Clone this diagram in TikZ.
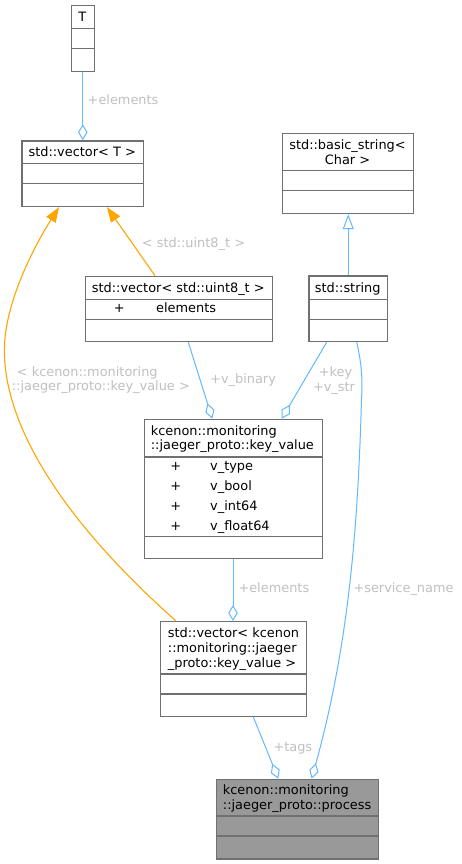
\documentclass[tikz,border=0pt]{standalone}
\usepackage{fontspec}
\setmainfont{DejaVu Sans}
\usetikzlibrary{arrows.meta}
\definecolor{edgeblue}{HTML}{63B8FF}
\definecolor{edgeorange}{HTML}{FFA500}
\definecolor{boxgray}{HTML}{707070}
\definecolor{lblgray}{HTML}{C0C0C0}
\definecolor{procfill}{HTML}{999999}
\tikzset{
  classbox/.style={draw=boxgray, line width=1.2pt, fill=white, rectangle, inner sep=0pt, anchor=north west},
  divider/.style={draw=boxgray, line width=1.2pt},
  txt/.style={inner sep=0pt, font=\fontsize{12.9}{14.6}\selectfont, text=black},
  lbl/.style={inner sep=0pt, font=\fontsize{12.9}{14.6}\selectfont, text=lblgray},
  member/.style={draw=edgeblue, line width=1pt, -{Diamond[open, length=16pt, width=9.5pt, line width=1pt]}},
  inherit/.style={draw=edgeblue, line width=1pt, -{Triangle[open, length=15pt, width=11pt, line width=1pt]}},
  templ/.style={draw=edgeorange, line width=1.1pt, -{Triangle[length=15pt, width=11pt]}, color=edgeorange},
}
\begin{document}
\begin{tikzpicture}[x=1pt, y=-1pt]
\useasboundingbox[fill=white] (0,0) rectangle (461,864);

% ---- boxes ----
\node[classbox, minimum width=23pt, minimum height=65.7pt] (T) at (70.7,5) {};
\draw[divider] (T.north west) ++(0,23.7) -- ++(23,0);
\draw[divider] (T.north west) ++(0,43.7) -- ++(23,0);
\node[txt, anchor=base] (Tt) at (82.2,21.4) {T};

\node[classbox, minimum width=121.7pt, minimum height=65.7pt] (vt) at (21.3,140.3) {};
\draw[divider] (vt.north west) ++(0,23.4) -- ++(121.7,0);
\draw[divider] (vt.north west) ++(0,43.4) -- ++(121.7,0);
\node[txt, anchor=base] (vtt) at (82.2,157) {std::vector< T >};

\node[classbox, minimum width=131pt, minimum height=80pt] (bs) at (282,133) {};
\draw[divider] (bs.north west) ++(0,37.7) -- ++(131,0);
\draw[divider] (bs.north west) ++(0,57.3) -- ++(131,0);
\node[txt, anchor=base] (bst1) at (347.5,149.5) {std::basic\_string<};
\node[txt, anchor=base] (bst2) at (347.5,164) {Char >};

\node[classbox, minimum width=78.7pt, minimum height=65.7pt] (ss) at (308.3,275.3) {};
\draw[divider] (ss.north west) ++(0,24) -- ++(78.7,0);
\draw[divider] (ss.north west) ++(0,44) -- ++(78.7,0);
\node[txt, anchor=base] (sst) at (347.7,292.8) {std::string};

\node[classbox, minimum width=186.7pt, minimum height=65.3pt] (u8) at (85,275.7) {};
\draw[divider] (u8.north west) ++(0,23.6) -- ++(186.7,0);
\draw[divider] (u8.north west) ++(0,43.6) -- ++(186.7,0);
\node[txt, anchor=base] (u8t) at (178.3,292.8) {std::vector< std::uint8\_t >};
\node[txt, anchor=base] (u8p) at (119.3,312.8) {+};
\node[txt, anchor=base west] (u8m) at (156,312.8) {elements};

\node[classbox, minimum width=178.3pt, minimum height=139.3pt] (kv) at (143.7,418.7) {};
\draw[divider] (kv.north west) ++(0,38.3) -- ++(178.3,0);
\draw[divider] (kv.north west) ++(0,117.6) -- ++(178.3,0);
\node[txt, anchor=base west] (kvt1) at (150.7,435.2) {kcenon::monitoring};
\node[txt, anchor=base west] (kvt2) at (150.7,449.8) {::jaeger\_proto::key\_value};
\node[txt, anchor=base] (kvp1) at (175.7,470.2) {+};
\node[txt, anchor=base] (kvp2) at (175.7,490.2) {+};
\node[txt, anchor=base] (kvp3) at (175.7,510.2) {+};
\node[txt, anchor=base] (kvp4) at (175.7,530.2) {+};
\node[txt, anchor=base west] (kvm1) at (210,470.2) {v\_type};
\node[txt, anchor=base west] (kvm2) at (210,490.2) {v\_bool};
\node[txt, anchor=base west] (kvm3) at (210,510.2) {v\_int64};
\node[txt, anchor=base west] (kvm4) at (210,530.2) {v\_float64};

\node[classbox, minimum width=145.7pt, minimum height=94.7pt] (vkv) at (160,621) {};
\draw[divider] (vkv.north west) ++(0,53) -- ++(145.7,0);
\draw[divider] (vkv.north west) ++(0,73) -- ++(145.7,0);
\node[txt, anchor=base west] (vkvt1) at (167.7,637.8) {std::vector< kcenon};
\node[txt, anchor=base west] (vkvt2) at (167.7,652.6) {::monitoring::jaeger};
\node[txt, anchor=base west] (vkvt3) at (167.7,667.2) {\_proto::key\_value >};

\node[classbox, fill=procfill, minimum width=162.3pt, minimum height=79.6pt] (proc) at (215.7,778.7) {};
\draw[divider] (proc.north west) ++(0,37.3) -- ++(162.3,0);
\draw[divider] (proc.north west) ++(0,57.3) -- ++(162.3,0);
\node[txt, anchor=base west] (proct1) at (222.7,794.5) {kcenon::monitoring};
\node[txt, anchor=base west] (proct2) at (222.7,809.2) {::jaeger\_proto::process};

% ---- connectors ----
\draw[member] (T.south) -- (T.south |- vt.north);
\node[lbl, anchor=base west] (l1) at (87.5,104.5) {+elements};

\draw[inherit] (ss.north) -- (ss.north |- bs.south);

\draw[templ] (155,0 |- u8.north) -- (107,0 |- vt.south);
\node[lbl, anchor=base west] (l2) at (141.7,247.5) {< std::uint8\_t >};

\draw[templ] (176,0 |- vkv.north) .. controls (40,500) and (-5,400) .. (6,330)
  .. controls (12,290) and (35,245) .. (59,0 |- vt.south);
\node[lbl, anchor=base west] (l3a) at (16.7,376.2) {< kcenon::monitoring};
\node[lbl, anchor=base west] (l3b) at (11.7,390.5) {::jaeger\_proto::key\_value >};

\draw[member] (188.3,0 |- u8.south) -- (212.3,0 |- kv.north);
\node[lbl, anchor=base west] (l4) at (210,383.5) {+v\_binary};

\draw[member] (326.7,0 |- ss.south) -- (281.7,0 |- kv.north);
\node[lbl, anchor=base] (l5a) at (335.5,376.2) {+key};
\node[lbl, anchor=base] (l5b) at (334,391) {+v\_str};

\draw[member] (233,0 |- kv.south) -- (233,0 |- vkv.north);
\node[lbl, anchor=base west] (l6) at (238.3,592.8) {+elements};

\draw[member] (253.3,0 |- vkv.south) -- (278.3,0 |- proc.north);
\node[lbl, anchor=base west] (l7) at (273.3,751.2) {+tags};

\draw[member] (356.7,0 |- ss.south) .. controls (362,365) and (362.5,380) .. (361.5,400)
  .. controls (358,520) and (350,640) .. (311.7,0 |- proc.north);
\node[lbl, anchor=base west] (l8) at (353.3,592.8) {+service\_name};
\end{tikzpicture}
\end{document}
